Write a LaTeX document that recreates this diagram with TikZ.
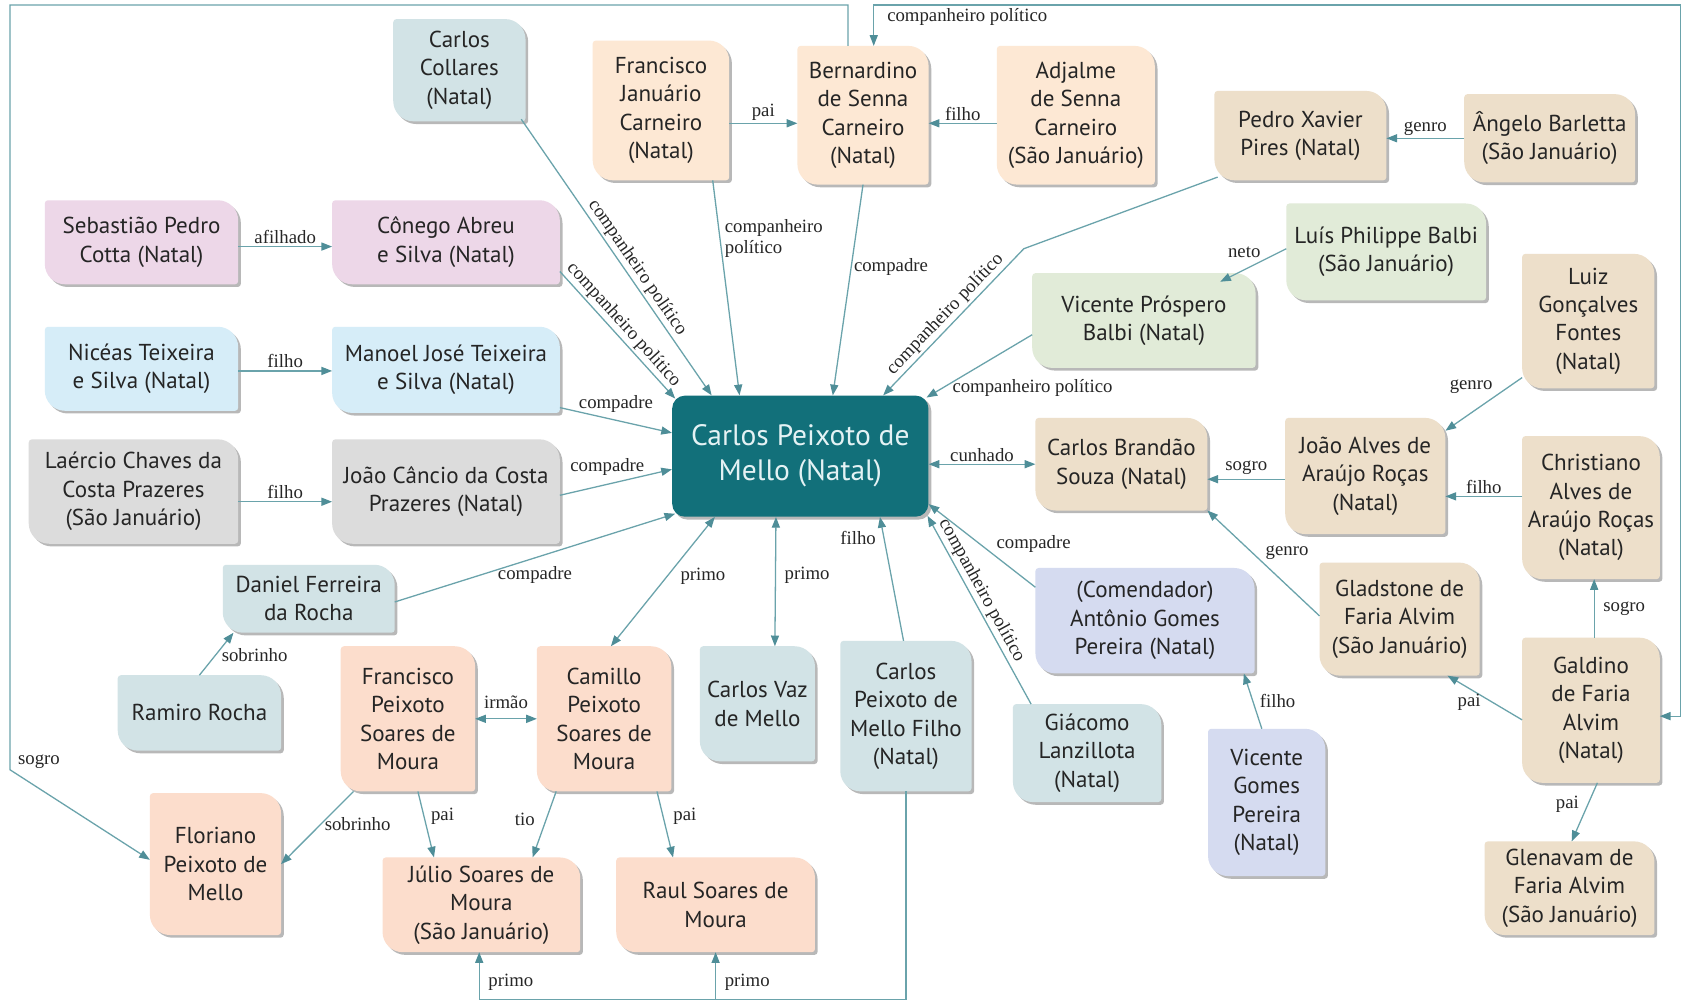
\documentclass[tikz,border=0pt]{standalone}
\usepackage{fontspec}
\setmainfont{PT Sans}
\newfontfamily\labelfont{Liberation Serif}
\usetikzlibrary{arrows.meta,calc,backgrounds}

\definecolor{cPeach}{HTML}{FDE8D4}
\definecolor{cTan}{HTML}{EDDFCA}
\definecolor{cPink}{HTML}{EDD7E8}
\definecolor{cSky}{HTML}{D6EDF8}
\definecolor{cGray}{HTML}{DCDCDC}
\definecolor{cSlate}{HTML}{D2E3E6}
\definecolor{cSage}{HTML}{E1EBD8}
\definecolor{cPeri}{HTML}{D5DBF0}
\definecolor{cSalmon}{HTML}{FCDDCC}
\definecolor{cCore}{HTML}{12707A}
\definecolor{cCoreText}{HTML}{E4F2F4}
\definecolor{cLink}{HTML}{6AA3AB}
\definecolor{cTip}{HTML}{4F8E98}
\definecolor{cInk}{HTML}{252525}

% corner radii of the leaf-shaped boxes
\def\RL{19}
\def\rs{3}

% leaf outline: large rounding at top right and bottom left
\newcommand\leafshape[4]{%
  \fill[#4] ([xshift=#2+\rs, yshift=#3]#1.north west)
    -- ([xshift=#2-\RL, yshift=#3]#1.north east)
    arc[start angle=90, end angle=0, radius=\RL]
    -- ([xshift=#2, yshift=#3+\rs]#1.south east)
    arc[start angle=0, end angle=-90, radius=\rs]
    -- ([xshift=#2+\RL, yshift=#3]#1.south west)
    arc[start angle=270, end angle=180, radius=\RL]
    -- ([xshift=#2, yshift=#3-\rs]#1.north west)
    arc[start angle=180, end angle=90, radius=\rs] -- cycle;}

% name, centre x, centre y (downwards), width, height, fill, text
\newcommand\person[7]{%
  \node[person, minimum width=#4pt, minimum height=#5pt] (#1) at (#2,-#3) {#7};
  \begin{scope}[on background layer]
    \leafshape{#1}{2.5}{-2.5}{boxshadow}
    \leafshape{#1}{0}{0}{#6}
  \end{scope}}

\tikzset{
  person/.style={inner sep=0pt, align=center, text=cInk, font=\fontsize{21.5}{26.5}\selectfont},
  core/.style={fill=cCore, rounded corners=12pt, text=cCoreText, align=center,
    inner sep=0pt, font=\fontsize{27.5}{32.5}\selectfont},
  boxshadow/.style={fill=black, opacity=0.28},
  link/.style={draw=cLink, line width=1.2pt},
  tip/.tip={Triangle[length=10pt, width=7.5pt, color=cTip, fill=cTip]},
  arr/.style={link, -tip},
  biarr/.style={link, tip-tip},
  lbl/.style={font=\labelfont\fontsize{17.5}{20}\selectfont, text=black!85, inner sep=2pt},
}

\begin{document}
\begin{tikzpicture}[x=1pt, y=1pt]
\useasboundingbox (0,0) rectangle (1568,-933);
\begin{scope}[on background layer]
  \fill[white] (0,0) rectangle (1568,-933);
\end{scope}

% central person
\node[core, minimum width=239pt, minimum height=113pt] (C) at (746.5,-425.5) {Carlos Peixoto de\\Mello (Natal)};
\begin{scope}[on background layer]
  \fill[boxshadow, rounded corners=12pt] ([xshift=2.5,yshift=-2.5]C.north west) rectangle ([xshift=2.5,yshift=-2.5]C.south east);
\end{scope}

% upper row
\person{coll}{428.5}{65.5}{123}{95}{cSlate}{Carlos\\Collares\\(Natal)}
\person{fjc}{616.5}{103}{127}{130}{cPeach}{Francisco\\Januário\\Carneiro\\(Natal)}
\person{bsc}{805}{107.5}{122}{129}{cPeach}{Bernardino\\de Senna\\Carneiro\\(Natal)}
\person{asc}{1003.5}{107.5}{147}{129}{cPeach}{Adjalme\\de Senna\\Carneiro\\(São Januário)}
\person{pxp}{1213}{126.5}{160}{83}{cTan}{Pedro Xavier\\Pires (Natal)}
\person{ab}{1445.5}{129}{159}{82}{cTan}{Ângelo Barletta\\(São Januário)}

% left column
\person{spc}{132}{226}{180}{78}{cPink}{Sebastião Pedro\\Cotta (Natal)}
\person{cas}{416}{226}{212}{78}{cPink}{Cônego Abreu\\e Silva (Natal)}
\person{nts}{132}{344}{180}{78}{cSky}{Nicéas Teixeira\\e Silva (Natal)}
\person{mjt}{416}{345}{212}{80}{cSky}{Manoel José Teixeira\\e Silva (Natal)}
\person{lcp}{124.5}{458.5}{195}{97}{cGray}{Laércio Chaves da\\Costa Prazeres\\(São Januário)}
\person{jcp}{416}{458.5}{212}{97}{cGray}{João Câncio da Costa\\Prazeres (Natal)}

% right side
\person{lpb}{1293}{235}{186}{90}{cSage}{Luís Philippe Balbi\\(São Januário)}
\person{vpb}{1067}{299}{208}{88}{cSage}{Vicente Próspero\\Balbi (Natal)}
\person{lgf}{1481.5}{299.5}{123}{125}{cTan}{Luiz\\Gonçalves\\Fontes\\(Natal)}
\person{cbs}{1046}{433}{160}{86}{cTan}{Carlos Brandão\\Souza (Natal)}
\person{jaa}{1273.5}{444}{149}{108}{cTan}{João Alves de\\Araújo Roças\\(Natal)}
\person{caa}{1484}{473.5}{128}{133}{cTan}{Christiano\\Alves de\\Araújo Roças\\(Natal)}
\person{agp}{1068}{579}{204}{98}{cPeri}{(Comendador)\\Antônio Gomes\\Pereira (Natal)}
\person{gfa}{1305.5}{577.5}{149}{105}{cTan}{Gladstone de\\Faria Alvim\\(São Januário)}
\person{gal}{1484}{662.5}{128}{135}{cTan}{Galdino\\de Faria\\Alvim\\(Natal)}
\person{gl}{1014}{702.5}{138}{91}{cSlate}{Giácomo\\Lanzillota\\(Natal)}
\person{vgp}{1181.5}{748.5}{109}{137}{cPeri}{Vicente\\Gomes\\Pereira\\(Natal)}
\person{gfv}{1464}{828.5}{158}{87}{cTan}{Glenavam de\\Faria Alvim\\(São Januário)}

% lower left
\person{dfr}{288}{558.5}{160}{63}{cSlate}{Daniel Ferreira\\da Rocha}
\person{rr}{186}{665}{152}{70}{cSlate}{Ramiro Rocha}
\person{fps}{380.5}{670.5}{125}{135}{cSalmon}{Francisco\\Peixoto\\Soares de\\Moura}
\person{cps}{563.5}{670.5}{125}{135}{cSalmon}{Camillo\\Peixoto\\Soares de\\Moura}
\person{cvm}{706.5}{656.5}{107}{107}{cSlate}{Carlos Vaz\\de Mello}
\person{cpf}{845}{668}{122}{140}{cSlate}{Carlos\\Peixoto de\\Mello Filho\\(Natal)}
\person{fpm}{201}{806}{122}{132}{cSalmon}{Floriano\\Peixoto de\\Mello}
\person{jsm}{449}{844}{184}{88}{cSalmon}{Júlio Soares de\\Moura\\(São Januário)}
\person{rsm}{667.5}{844}{185}{88}{cSalmon}{Raul Soares de\\Moura}

% routing points
\coordinate (pxpbend) at (955,-232);
\coordinate (botR) at (845,-932);
\coordinate (topL) at (9.3,-4.7);
\coordinate (sgC) at (9.3,-718);
\coordinate (topR) at (1567.5,-4.7);

% upper row links
\draw[arr] ([yshift=-12]fjc.east) -- ([yshift=-12]fjc.east -| bsc.west) node[lbl, midway, above] {pai};
\draw[arr] ([yshift=-7.5]asc.west) -- ([yshift=-7.5]asc.west -| bsc.east) node[lbl, midway, above] {filho};
\draw[arr] (ab.west) -- (ab.west -| pxp.east) node[lbl, midway, above] {genro};
\draw[arr] ([yshift=3]lpb.west) -- ([xshift=-33,yshift=-8]vpb.north east) node[lbl, pos=0.35, anchor=south east] {neto};

% left column links
\draw[arr] ([yshift=-4]spc.east) -- ([yshift=-4]spc.east -| cas.west) node[lbl, midway, above] {afilhado};
\draw[arr] ([yshift=-2]nts.east) -- ([yshift=-2]nts.east -| mjt.west) node[lbl, midway, above] {filho};
\draw[arr] ([yshift=-9.5]lcp.east) -- ([yshift=-9.5]lcp.east -| jcp.west) node[lbl, midway, above] {filho};

% links into the central person
\draw[arr] ([xshift=-4,yshift=2]coll.south east) -- ([xshift=37]C.north west) node[lbl, sloped, above, pos=0.56] {companheiro político};
\draw[arr] ([yshift=12]cas.south east) -- ([xshift=3,yshift=-3]C.north west) node[lbl, sloped, above, pos=0.48] {companheiro político};
\draw[arr] ([xshift=112]fjc.south west) -- ([xshift=63]C.north west) node[lbl, pos=0.27, anchor=west, align=left, xshift=2] {companheiro\\político};
\draw[arr] (bsc.south) -- ([xshift=150]C.north west) node[lbl, pos=0.39, anchor=west] {compadre};
\draw[arr] ([xshift=3,yshift=3]pxp.south west) -- (pxpbend) -- ([xshift=197]C.north west) node[lbl, sloped, above, pos=0.5] {companheiro político};
\draw[arr] ([yshift=31]vpb.south west) -- ([xshift=-2,yshift=-2]C.north east) node[lbl, pos=0.78, anchor=west, yshift=-4] {companheiro político};
\draw[arr] ([yshift=5]mjt.south east) -- ([yshift=-35]C.north west) node[lbl, midway, above, yshift=5] {compadre};
\draw[arr] ([yshift=-3.5]jcp.east) -- ([yshift=-69]C.north west) node[lbl, midway, above, xshift=-8, yshift=4] {compadre};
\draw[arr] ([yshift=-3]dfr.east) -- ([xshift=3,yshift=3]C.south west) node[lbl, midway, below, yshift=-5] {compadre};
\draw[biarr] ([xshift=40]C.south west) -- ([xshift=69]cps.north west) node[lbl, pos=0.46, anchor=west, xshift=10] {primo};
\draw[biarr] ([xshift=97]C.south west) -- ([xshift=70]cvm.north west) node[lbl, pos=0.45, anchor=west, xshift=6] {primo};
\draw[arr] ([xshift=59]cpf.north west) -- ([xshift=194]C.south west) node[lbl, pos=0.83, anchor=east, xshift=-5] {filho};
\draw[arr] ([xshift=17]gl.north west) -- ([xshift=-1,yshift=1]C.south east) node[lbl, sloped, above, pos=0.575] {companheiro político};
\draw[arr] ([yshift=-18]agp.north west) -- ([yshift=12]C.south east) node[lbl, pos=0.52, anchor=west, xshift=13] {compadre};
\draw[biarr] (C.east |- cbs.west) -- (cbs.west) node[lbl, midway, above] {cunhado};

% right cluster links
\draw[arr] ([yshift=-3]jaa.west) -- ([yshift=-3]jaa.west -| cbs.east) node[lbl, midway, above, yshift=2] {sogro};
\draw[arr] ([yshift=10]lgf.south west) -- ([yshift=-12]jaa.north east) node[lbl, pos=0.35, anchor=south east] {genro};
\draw[arr] ([yshift=10.5]caa.west) -- ([yshift=10.5]caa.west -| jaa.east) node[lbl, midway, above] {filho};
\draw[arr] ([yshift=3]gfa.west) -- (cbs.south east) node[lbl, pos=0.6, anchor=west, xshift=10] {genro};
\draw[arr] ([yshift=-9]gal.west) -- ([xshift=-30]gfa.south east) node[lbl, pos=0.71, anchor=north, yshift=-3] {pai};
\draw[arr] ([xshift=3]gal.north) -- ([xshift=3]caa.south) node[lbl, midway, anchor=west, xshift=6] {sogro};
\draw[arr] ([xshift=6]gal.south) -- ([xshift=2]gfv.north) node[lbl, pos=0.36, anchor=east, xshift=-6] {pai};
\draw[arr] ([xshift=-4.5]vgp.north) -- ([xshift=-10]agp.south east) node[lbl, pos=0.5, anchor=west, xshift=4] {filho};

% lower left links
\draw[arr] (rr.north) -- ([xshift=10]dfr.south west) node[lbl, pos=0.48, anchor=west, xshift=3] {sobrinho};
\draw[biarr] (fps.east) -- (cps.west) node[lbl, midway, above, yshift=7] {irmão};
\draw[arr] ([xshift=12]fps.south west) -- (fpm.east) node[lbl, pos=0.45, anchor=west, xshift=1] {sobrinho};
\draw[arr] ([xshift=72]fps.south west) -- ([xshift=48]jsm.north west) node[lbl, pos=0.38, anchor=west, xshift=4] {pai};
\draw[arr] ([xshift=18]cps.south west) -- ([xshift=140]jsm.north west) node[lbl, pos=0.43, anchor=east, xshift=-8] {tio};
\draw[arr] ([xshift=112]cps.south west) -- ([xshift=53]rsm.north west) node[lbl, pos=0.38, anchor=west, xshift=7] {pai};

% bottom return from the son to the cousins
\draw[arr] (cpf.south) -- (botR) -| node[lbl, pos=0.75, anchor=west, xshift=6, yshift=-6] {primo} ([xshift=-2]jsm.south);
\draw[arr] (botR) -| node[lbl, pos=0.75, anchor=west, xshift=6, yshift=-6] {primo} (rsm.south);

% long links along the frame
\draw[arr] ([xshift=-14]bsc.north) |- (topL) -- (sgC) node[lbl, pos=0.99, anchor=west, xshift=5] {sogro} -- ([yshift=4]fpm.west);
\draw[biarr] ([xshift=10]bsc.north) |- node[lbl, pos=0.5, anchor=north west, xshift=10, yshift=-1] {companheiro político} (topR) |- ([yshift=-5.5]gal.east);
\end{tikzpicture}
\end{document}
